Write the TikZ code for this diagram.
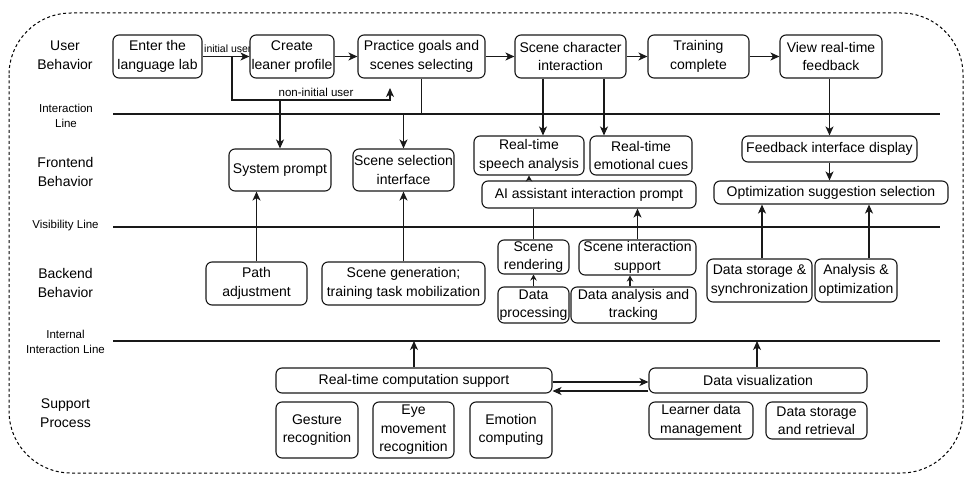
\documentclass[tikz,border=0pt]{standalone}
\usepackage{fontspec}
\setmainfont{Liberation Sans}
\usetikzlibrary{arrows.meta,calc}
\begin{document}
\begin{tikzpicture}[x=1pt,y=-1pt,
  box/.style={draw=black!90, line width=1.1pt, rounded corners=6pt, fill=white, align=center,
    inner xsep=1pt, inner ysep=0pt, font=\fontsize{14}{18.5}\selectfont},
  lane/.style={align=center, font=\fontsize{14}{19}\selectfont},
  lanesm/.style={align=center, font=\fontsize{11.5}{15}\selectfont},
  arr/.style={line width=1.1pt, draw=black!90, -{Stealth[length=9pt,width=8pt,inset=2.5pt]}},
  sarr/.style={line width=1.1pt, draw=black!90, -{Stealth[length=6pt,width=6.5pt,inset=2pt]}},
  ln/.style={line width=1.1pt, draw=black!90},
  sepline/.style={line width=1.1pt, draw=black!90},
  lbl/.style={inner sep=0pt}
]
\useasboundingbox (0,0) rectangle (972,484);
\draw[line width=1pt, dash pattern=on 3pt off 2.5pt, rounded corners=62pt] (9,13) rectangle (963,473);

% lane labels
\node[lane] (lUser) at (65,55.5) {User\\Behavior};
\node[lanesm] (lInt) at (66,115.5) {Interaction\\Line};
\node[lane] (lFront) at (65.5,171.5) {Frontend\\Behavior};
\node[lanesm] (lVis) at (65.5,226) {Visibility Line};
\node[lane] (lBack) at (65.5,282.5) {Backend\\Behavior};
\node[lanesm] (lInternal) at (65.5,341.5) {Internal\\Interaction Line};
\node[lane] (lSup) at (65.5,413.5) {Support\\Process};

% separator lines
\coordinate (il1) at (113,114); \coordinate (il2) at (940,114);
\coordinate (vl1) at (113,227); \coordinate (vl2) at (940,227);
\coordinate (nl1) at (113,341); \coordinate (nl2) at (940,341);
\draw[sepline] (il1) -- (il2);
\draw[sepline] (vl1) -- (vl2);
\draw[sepline] (nl1) -- (nl2);

% label behind box
\node[lbl, anchor=west, font=\fontsize{10.5}{12}\selectfont] (initlbl) at (204,49) {initial user};

% user behavior row
\node[box, minimum width=89pt, minimum height=43pt] (enter) at (157.5,56.5) {Enter the\\language lab};
\node[box, minimum width=84pt, minimum height=43pt] (create) at (292,56.5) {Create\\leaner profile};
\node[box, minimum width=127pt, minimum height=43pt] (practice) at (421.5,56.5) {Practice goals and\\scenes selecting};
\node[box, minimum width=111pt, minimum height=43pt] (scene) at (570.5,56.5) {Scene character\\interaction};
\node[box, minimum width=101pt, minimum height=43pt] (training) at (698.5,56.5) {Training\\complete};
\node[box, minimum width=102pt, minimum height=43pt] (view) at (831,56.5) {View real-time\\feedback};

% frontend
\node[box, minimum width=102pt, minimum height=42pt] (sysprompt) at (280,170) {System prompt};
\node[box, minimum width=101pt, minimum height=42pt] (scenesel) at (403.5,170) {Scene selection\\interface};
\node[box, minimum width=110pt, minimum height=39pt] (speech) at (529,155.5) {Real-time\\speech analysis};
\node[box, minimum width=102pt, minimum height=39pt] (emot) at (641,155.5) {Real-time\\emotional cues};
\node[box, minimum width=214pt, minimum height=27pt] (ai) at (589,194.5) {AI assistant interaction prompt};
\node[box, minimum width=175pt, minimum height=26pt] (fbdisp) at (829.5,149) {Feedback interface display};
\node[box, minimum width=234pt, minimum height=23pt] (optsel) at (831,192.5) {Optimization suggestion selection};

% backend
\node[box, minimum width=101pt, minimum height=43pt] (path) at (256.5,283.5) {Path\\adjustment};
\node[box, minimum width=163pt, minimum height=43pt] (scenegen) at (403.5,283.5) {Scene generation;\\training task mobilization};
\node[box, minimum width=71pt, minimum height=34pt] (render) at (533.5,257) {Scene\\rendering};
\node[box, minimum width=117pt, minimum height=35pt] (sisupport) at (637.5,257.5) {Scene interaction\\support};
\node[box, minimum width=71pt, minimum height=36pt] (dproc) at (533.5,305) {Data\\processing};
\node[box, minimum width=125pt, minimum height=36pt] (danal) at (633.5,305) {Data analysis and\\tracking};
\node[box, minimum width=105pt, minimum height=43pt] (dstore) at (759.5,280.5) {Data storage \&\\synchronization};
\node[box, minimum width=82pt, minimum height=43pt] (analopt) at (856,280.5) {Analysis \&\\optimization};

% support
\node[box, minimum width=276pt, minimum height=25pt] (rtc) at (414,380.5) {Real-time computation support};
\node[box, minimum width=218pt, minimum height=25pt] (dvis) at (758,380.5) {Data visualization};
\node[box, minimum width=82pt, minimum height=56pt] (gesture) at (317,430) {Gesture\\recognition};
\node[box, minimum width=81pt, minimum height=56pt] (eye) at (413.5,430) {Eye\\movement\\recognition};
\node[box, minimum width=82pt, minimum height=56pt] (emocomp) at (511,430) {Emotion\\computing};
\node[box, minimum width=104pt, minimum height=37pt] (learner) at (701,420.5) {Learner data\\management};
\node[box, minimum width=101pt, minimum height=37pt] (dsr) at (816.5,420.5) {Data storage\\and retrieval};

% top row connectors
\draw[arr] (enter.east) -- (create.west);
\draw[arr] (create.east) -- (practice.west);
\draw[arr] (practice.east) -- (scene.west);
\draw[arr] (scene.east) -- (training.west);
\draw[arr] (training.east) -- (view.west);

% non-initial user path
\coordinate (nibend) at (232,100);
\coordinate (nitip) at (390,88);
\draw[arr] (nibend |- enter.east) -- (nibend) -| (nitip);
\node[lbl, font=\fontsize{11.5}{14}\selectfont] (nilbl) at (316,92) {non-initial user};
\draw[arr] (sysprompt.north |- nibend) -- (sysprompt.north);
\draw[arr] (practice.south) -- (practice.south |- il1) -| (scenesel.north);

% scene character -> frontend
\coordinate (sx1) at (543,0);
\coordinate (sx2) at (604,0);
\draw[arr] (scene.south -| sx1) -- (speech.north -| sx1);
\draw[arr] (scene.south -| sx2) -- (emot.north -| sx2);
\draw[sarr] (speech.south |- ai.north) -- (speech.south);
\draw[ln] (render.north) -- (render.north |- ai.south);
\draw[arr] (sisupport.north) -- (sisupport.north |- ai.south);
\draw[sarr] (dproc.north) -- (render.south);
\coordinate (dax) at (630,0);
\draw[sarr] (danal.north -| dax) -- (sisupport.south -| dax);

% feedback
\draw[arr] (fbdisp.north |- view.south) -- (fbdisp.north);
\draw[arr] (fbdisp.south) -- (fbdisp.south |- optsel.north);
\coordinate (dsx) at (762,0);
\coordinate (aox) at (869,0);
\draw[arr] (dstore.north -| dsx) -- (optsel.south -| dsx);
\draw[arr] (analopt.north -| aox) -- (optsel.south -| aox);

% backend -> frontend
\draw[arr] (path.north) -- (path.north |- sysprompt.south);
\draw[arr] (scenegen.north) -- (scenesel.south);

% support -> internal line
\draw[arr] (rtc.north) -- (rtc.north |- nl1);
\coordinate (dvx) at (757,0);
\draw[arr] (dvis.north -| dvx) -- (nl1 -| dvx);
\coordinate (r1) at (0,382);
\coordinate (r2) at (0,391);
\draw[arr] (rtc.east |- r1) -- (dvis.west |- r1);
\draw[arr] (dvis.west |- r2) -- (rtc.east |- r2);
\end{tikzpicture}
\end{document}
